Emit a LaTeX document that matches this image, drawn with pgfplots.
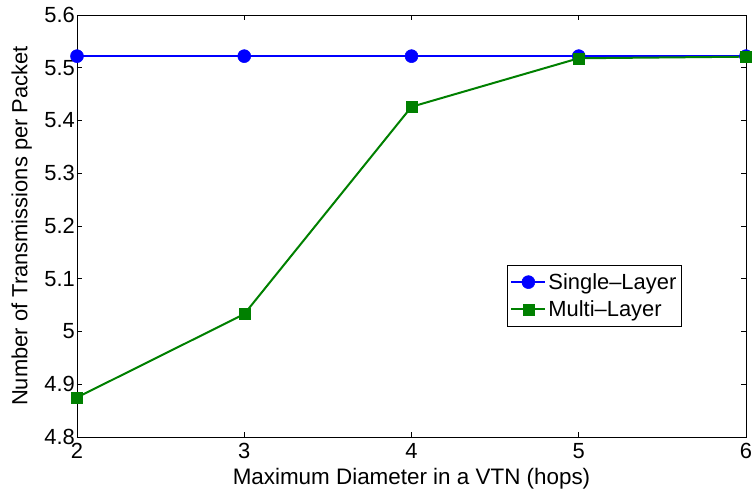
\documentclass[border=0pt]{standalone}
\usepackage{pgfplots}
\pgfplotsset{compat=1.18}
\usepackage{fontspec}
\setmainfont{Liberation Sans}
\definecolor{mblue}{RGB}{0,0,255}
\definecolor{mgreen}{RGB}{0,128,0}
\begin{document}
\begin{tikzpicture}[x=1bp,y=1bp]
\begin{axis}[
  at={(0bp,0bp)}, anchor=south west,
  scale only axis,
  width=669bp, height=422bp,
  xmin=2, xmax=6, ymin=4.8, ymax=5.6,
  xtick={2,3,4,5,6},
  ytick={4.8,4.9,5,5.1,5.2,5.3,5.4,5.5,5.6},
  yticklabels={4.8,4.9,5,5.1,5.2,5.3,5.4,5.5,5.6},
  xticklabels={2,3,4,5,6},
  tick align=inside,
  major tick length=5bp,
  tick style={black, line width=0.7bp},
  axis line style={black, line width=0.9bp},
  tick label style={font=\fontsize{22}{26}\selectfont},
  xlabel style={font=\fontsize{22.5}{26}\selectfont},
  ylabel style={font=\fontsize{22}{26}\selectfont},
  xticklabel style={inner sep=1bp, yshift=-5bp},
  yticklabel style={inner sep=2bp},
  xlabel={Maximum Diameter in a VTN (hops)},
  ylabel={Number of Transmissions per Packet},
  xlabel style={at={(0.5,0)}, anchor=north, yshift=-31bp, inner sep=0pt},
  ylabel style={at={(0,0.5)}, anchor=south, yshift=45bp, inner sep=0pt},
  legend style={at={(0.904,0.4076)}, anchor=north east, draw=black, line width=0.9bp,
    font=\fontsize{22}{26}\selectfont, inner xsep=3bp, inner ysep=6bp, row sep=6bp},
  legend cell align=left,
  legend image code/.code={\draw[mark repeat=2,mark phase=2] plot coordinates {(0bp,0bp) (17bp,0bp) (34bp,0bp)};},
]
\addplot[color=mblue, line width=2bp, mark=*, mark size=6.5bp, mark options={fill=mblue, draw=mblue, line width=0.5bp}]
  coordinates {(2,5.522) (3,5.522) (4,5.522) (5,5.522) (6,5.522)};
\addlegendentry{Single\textendash Layer}
\addplot[color=mgreen, line width=2bp, mark=square*, mark size=5.5bp, mark options={fill=mgreen, draw=mgreen, line width=0.5bp}]
  coordinates {(2,4.875) (3,5.033) (4,5.426) (5,5.518) (6,5.521)};
\addlegendentry{Multi\textendash Layer}
\end{axis}
\pgfresetboundingbox
\path[use as bounding box] (-77bp,-57bp) rectangle (675bp,437bp);
\end{tikzpicture}
\end{document}
